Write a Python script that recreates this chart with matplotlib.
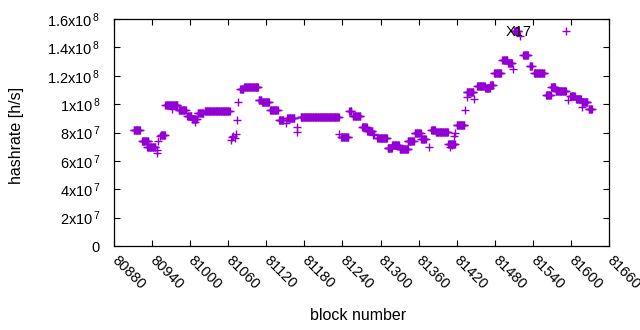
import numpy as np
import matplotlib
matplotlib.use("Agg")
import matplotlib.pyplot as plt

plt.rcParams['font.family'] = ['Liberation Sans', 'DejaVu Sans']
plt.rcParams['mathtext.fontset'] = 'custom'
plt.rcParams['mathtext.rm'] = 'Liberation Sans'
plt.rcParams['mathtext.it'] = 'Liberation Sans'

# Runs of consecutive blocks with (nearly) constant hashrate [1e6 h/s]
run_start = [80911, 80924, 80932, 80954, 80961, 80982, 80995, 81003, 81012, 81023,
             81079, 81085, 81108, 81113, 81126, 81140, 81153, 81174, 81238, 81251,
             81256, 81271, 81279, 81295, 81311, 81318, 81330, 81343, 81354, 81364,
             81380, 81387, 81407, 81420, 81436, 81452, 81465, 81473, 81479, 81492,
             81501, 81510, 81525, 81535, 81542, 81561, 81569, 81576, 81599, 81608,
             81617, 81628]
run_end = [80921, 80934, 80945, 80960, 80980, 80993, 81002, 81010, 81021, 81062,
           81084, 81107, 81112, 81124, 81138, 81147, 81164, 81234, 81249, 81254,
           81268, 81278, 81287, 81310, 81318, 81329, 81343, 81352, 81363, 81371,
           81386, 81406, 81417, 81432, 81446, 81464, 81472, 81477, 81490, 81500,
           81507, 81517, 81532, 81538, 81558, 81568, 81575, 81592, 81606, 81616,
           81626, 81633]
run_value = [81.5, 73.8, 69.8, 78.5, 99.2, 95.9, 91.4, 89.7, 93.5, 94.9,
             110.4, 111.8, 102.7, 101.3, 95.6, 88.6, 90.0, 90.7, 76.8, 95.3,
             91.4, 83.9, 81.3, 75.9, 68.9, 71.5, 68.6, 73.8, 79.4, 75.2,
             81.8, 80.7, 72.0, 85.3, 108.8, 113.0, 111.6, 113.5, 122.0, 131.0,
             129.2, 151.3, 134.5, 127.0, 121.8, 106.4, 112.3, 109.2, 105.5, 103.4,
             101.2, 96.3]

# Isolated blocks [1e6 h/s]
single_block = [80947, 80948, 80950, 80952, 80972, 81008, 81064, 81066, 81068, 81070,
                81072, 81074, 81076, 81151, 81168, 81168, 81235, 81288, 81290, 81376,
                81410, 81413, 81416, 81418, 81433, 81437, 81447, 81509, 81520, 81596,
                81618]
single_value = [65.5, 67.5, 74.3, 77.5, 96.8, 87.6, 75.0, 76.5, 77.5, 76.0,
                79.0, 88.8, 101.5, 87.0, 83.8, 80.6, 78.8, 78.2, 79.0, 70.0,
                69.6, 71.0, 77.5, 79.8, 95.9, 105.0, 103.6, 124.8, 148.3, 102.9,
                98.2]

xticks = list(range(80880, 81661, 60))
xtick_labels = [str(t) for t in xticks]
yticks = [0, 2e7, 4e7, 6e7, 8e7, 1e8, 1.2e8, 1.4e8, 1.6e8]
ytick_labels = ['0', r'2x10$^{\,7}$', r'4x10$^{\,7}$', r'6x10$^{\,7}$', r'8x10$^{\,7}$',
                r'1x10$^{\,8}$', r'1.2x10$^{\,8}$', r'1.4x10$^{\,8}$', r'1.6x10$^{\,8}$']
series_label = 'X17'
color = '#9400D3'

blocks = []
values = []
for s, e, v in zip(run_start, run_end, run_value):
    for b in range(s, e + 1):
        blocks.append(b)
        values.append(v * 1e6)
for b, v in zip(single_block, single_value):
    blocks.append(b)
    values.append(v * 1e6)

fig = plt.figure(figsize=(6.4, 3.3), dpi=100)
ax = fig.add_axes([114/640, 1 - 246/330, (609-114)/640, (246-19)/330])

ax.plot(blocks, values, linestyle='none', marker='+', markersize=5.2,
        markeredgewidth=1.0, color=color, label=series_label)

ax.set_xlim(80880, 81660)
ax.set_ylim(0, 1.6e8)
ax.set_xticks(xticks)
ax.set_xticklabels(xtick_labels, rotation=-45, ha='left', va='center',
                   rotation_mode='anchor', fontsize=10.5)
ax.set_yticks(yticks)
ax.set_yticklabels(ytick_labels, fontsize=10.5)
ax.tick_params(direction='in', length=4, width=0.8, top=True, right=True,
               colors='black')
ax.tick_params(axis='x', pad=9)
ax.tick_params(axis='y', pad=10)
for sp in ax.spines.values():
    sp.set_linewidth(0.9)

ax.set_xlabel('block number', fontsize=11.5)
ax.set_ylabel('hashrate [h/s]', fontsize=11.5)
ax.xaxis.set_label_coords((358-114)/495, (246-316)/227)
ax.yaxis.set_label_coords((17-114)/495, (246-135)/227)
ax.xaxis.label.set_va('center')
ax.yaxis.label.set_va('center')

ax.legend(loc='upper right', bbox_to_anchor=((581-114)/495, (246-25)/227),
          frameon=False, markerfirst=False, borderpad=0, borderaxespad=0,
          handlelength=2, handletextpad=1.37, fontsize=10.5)

fig.savefig('out.png', dpi=100)
